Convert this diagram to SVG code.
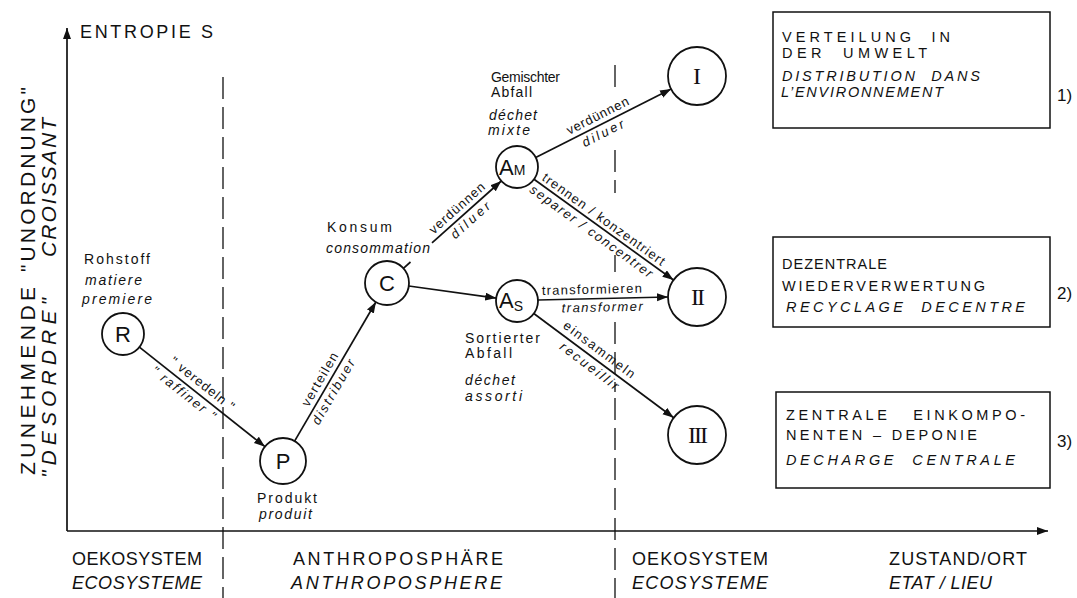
<svg xmlns="http://www.w3.org/2000/svg" width="1077" height="598" viewBox="0 0 1077 598">
  <style>
    text { font-family: "Liberation Sans", Arial, sans-serif; fill: #111; }
    .it { font-style: italic; }
    .ax { font-size: 18px; }
    .vl { font-size: 21px; }
    .bx { font-size: 14.5px; }
    .num { font-size: 17px; }
    .nl { font-size: 14px; }
    .el { font-size: 13px; text-anchor: middle; }
    .nd { font-size: 22px; }
    .rn { font-family: "Liberation Serif", "Times New Roman", serif; font-size: 24px; }
    .circ { fill: #fff; stroke: #111; stroke-width: 1.8; }
    .conn { stroke: #111; stroke-width: 1.7; fill: none; }
    .dash { stroke: #111; stroke-width: 1.3; stroke-dasharray: 22 8; fill: none; }
    .box { fill: #fff; stroke: #111; stroke-width: 1.5; }
  </style>
  <defs>
    <marker id="ah" markerWidth="12" markerHeight="9" refX="11" refY="4" orient="auto" markerUnits="userSpaceOnUse">
      <path d="M0,0 L11,4 L0,8 z" fill="#111"/>
    </marker>
  </defs>

  <rect width="1077" height="598" fill="#fff"/>

  <!-- zone boundaries -->
  <g id="zones">
    <line class="dash" x1="223" y1="77" x2="223" y2="598"/>
    <line class="dash" x1="615" y1="65" x2="615" y2="88"/>
    <line class="dash" x1="615" y1="150" x2="615" y2="193"/>
    <line class="dash" x1="615" y1="255" x2="615" y2="272"/>
    <line class="dash" x1="615" y1="322" x2="615" y2="392"/>
    <line class="dash" x1="615" y1="398" x2="615" y2="598"/>
  </g>

  <!-- axes -->
  <g id="axes">
    <line class="conn" x1="67" y1="531" x2="67" y2="28" marker-end="url(#ah)"/>
    <line class="conn" x1="67" y1="531" x2="1048" y2="531" marker-end="url(#ah)"/>
    <text class="ax" x="80" y="38" textLength="133" lengthAdjust="spacing">ENTROPIE S</text>
    <text class="vl" transform="translate(35,475) rotate(-90)" textLength="188" lengthAdjust="spacing">ZUNEHMENDE</text>
    <text class="vl" transform="translate(35,272) rotate(-90)" textLength="185" lengthAdjust="spacing">"UNORDNUNG"</text>
    <text class="vl it" transform="translate(56,478) rotate(-90)" textLength="180" lengthAdjust="spacing">"DESORDRE"</text>
    <text class="vl it" transform="translate(56,257) rotate(-90)" textLength="139" lengthAdjust="spacing">CROISSANT</text>
    <text class="ax" x="72" y="565" textLength="130" lengthAdjust="spacing">OEKOSYSTEM</text>
    <text class="ax it" x="72" y="589" textLength="130" lengthAdjust="spacing">ECOSYSTEME</text>
    <text class="ax" x="293" y="565" textLength="210" lengthAdjust="spacing">ANTHROPOSPHÄRE</text>
    <text class="ax it" x="291" y="589" textLength="211" lengthAdjust="spacing">ANTHROPOSPHERE</text>
    <text class="ax" x="632" y="565" textLength="136" lengthAdjust="spacing">OEKOSYSTEM</text>
    <text class="ax it" x="632" y="589" textLength="136" lengthAdjust="spacing">ECOSYSTEME</text>
    <text class="ax" x="889" y="565" textLength="138" lengthAdjust="spacing">ZUSTAND/ORT</text>
    <text class="ax it" x="889" y="589" textLength="103" lengthAdjust="spacing" xml:space="preserve">ETAT / LIEU</text>
  </g>

  <!-- connectors; each label group is placed in the frame of its line (origin at line start) -->
  <g id="connectors">
    <line class="conn" x1="139.4" y1="347.1" x2="265" y2="446.7" marker-end="url(#ah)"/>
    <line class="conn" x1="294.6" y1="441.1" x2="375.9" y2="302" marker-end="url(#ah)"/>
    <line class="conn" x1="403.4" y1="268.3" x2="410.5" y2="262"/>
    <line class="conn" x1="432" y1="242.8" x2="501.3" y2="181" marker-end="url(#ah)"/>
    <line class="conn" x1="535.7" y1="157.5" x2="671.1" y2="89.1" marker-end="url(#ah)"/>
    <line class="conn" x1="534" y1="179.3" x2="673.5" y2="280" marker-end="url(#ah)"/>
    <line class="conn" x1="408.8" y1="286" x2="496.2" y2="298.1" marker-end="url(#ah)"/>
    <line class="conn" x1="538" y1="300" x2="668" y2="297" marker-end="url(#ah)"/>
    <line class="conn" x1="533.8" y1="313.5" x2="673.7" y2="417.7" marker-end="url(#ah)"/>

    <g transform="translate(139.4,347.1) rotate(38.4)">
      <text class="el" x="72" y="-6" textLength="78" lengthAdjust="spacing">" veredeln "</text>
      <text class="el it" x="63" y="13" textLength="78" lengthAdjust="spacing">" raffiner "</text>
    </g>
    <g transform="translate(294.6,441.1) rotate(-59.7)">
      <text class="el" x="66" y="-5" textLength="60" lengthAdjust="spacing">verteilen</text>
      <text class="el it" x="62" y="13" textLength="73" lengthAdjust="spacing">distribuer</text>
    </g>
    <g transform="translate(403.4,268.3) rotate(-41.7)">
      <text class="el" x="80" y="-5" textLength="70" lengthAdjust="spacing">verdünnen</text>
      <text class="el it" x="82" y="13" textLength="48" lengthAdjust="spacing">diluer</text>
    </g>
    <g transform="translate(535.7,157.5) rotate(-26.8)">
      <text class="el" x="74" y="-5" textLength="68" lengthAdjust="spacing">verdünnen</text>
      <text class="el it" x="71" y="13" textLength="45" lengthAdjust="spacing">diluer</text>
    </g>
    <g transform="translate(534,179.3) rotate(35.8)">
      <text class="el" x="80" y="-4" textLength="148" lengthAdjust="spacing" xml:space="preserve">trennen / konzentriert</text>
      <text class="el it" x="77" y="13" textLength="148" lengthAdjust="spacing" xml:space="preserve">separer / concentrer</text>
    </g>
    <g transform="translate(538,300) rotate(-1.3)">
      <text class="el" x="54" y="-5" textLength="100" lengthAdjust="spacing">transformieren</text>
      <text class="el it" x="64" y="13" textLength="81" lengthAdjust="spacing">transformer</text>
    </g>
    <g transform="translate(533.8,313.5) rotate(36.9)">
      <text class="el" x="74" y="-6" textLength="86" lengthAdjust="spacing">einsammeln</text>
      <text class="el it" x="76" y="13" textLength="70" lengthAdjust="spacing">recueillir</text>
    </g>
  </g>

  <!-- raw material -->
  <g id="node-R">
    <circle class="circ" cx="123" cy="334" r="21"/>
    <text class="nd" x="123" y="342" text-anchor="middle">R</text>
    <text class="nl" x="84" y="264" textLength="66" lengthAdjust="spacing">Rohstoff</text>
    <text class="nl it" x="85" y="285" textLength="57" lengthAdjust="spacing">matiere</text>
    <text class="nl it" x="82" y="304" textLength="70" lengthAdjust="spacing">premiere</text>
  </g>

  <!-- product -->
  <g id="node-P">
    <circle class="circ" cx="283" cy="461" r="23"/>
    <text class="nd" x="283" y="469" text-anchor="middle">P</text>
    <text class="nl" x="257" y="503" textLength="60" lengthAdjust="spacing">Produkt</text>
    <text class="nl it" x="259" y="519" textLength="53" lengthAdjust="spacing">produit</text>
  </g>

  <!-- consumption -->
  <g id="node-C">
    <circle class="circ" cx="387" cy="283" r="22"/>
    <text class="nd" x="387" y="291" text-anchor="middle">C</text>
    <text class="nl" x="327" y="232" textLength="65" lengthAdjust="spacing">Konsum</text>
    <text class="nl it" x="326" y="253" textLength="104" lengthAdjust="spacing">consommation</text>
  </g>

  <!-- mixed waste -->
  <g id="node-AM">
    <circle class="circ" cx="517" cy="167" r="21"/>
    <text x="499" y="175" class="nd">A<tspan font-size="14">M</tspan></text>
    <text class="nl" x="491" y="82" textLength="69" lengthAdjust="spacing">Gemischter</text>
    <text class="nl" x="491" y="97" textLength="41" lengthAdjust="spacing">Abfall</text>
    <text class="nl it" x="489" y="120" textLength="48" lengthAdjust="spacing">déchet</text>
    <text class="nl it" x="488" y="135" textLength="42" lengthAdjust="spacing">mixte</text>
  </g>

  <!-- sorted waste -->
  <g id="node-AS">
    <circle class="circ" cx="517" cy="301" r="21"/>
    <text x="499" y="308" class="nd">A<tspan font-size="14" dy="3">S</tspan></text>
    <text class="nl" x="465" y="343" textLength="75" lengthAdjust="spacing">Sortierter</text>
    <text class="nl" x="465" y="358" textLength="47" lengthAdjust="spacing">Abfall</text>
    <text class="nl it" x="465" y="385" textLength="50" lengthAdjust="spacing">déchet</text>
    <text class="nl it" x="465" y="401" textLength="57" lengthAdjust="spacing">assorti</text>
  </g>

  <!-- outcomes -->
  <g id="node-I">
    <circle class="circ" cx="697" cy="76" r="29"/>
    <text class="rn" x="697" y="84" text-anchor="middle">I</text>
  </g>
  <g id="node-II">
    <circle class="circ" cx="697" cy="297" r="29"/>
    <text class="rn" x="697" y="305" text-anchor="middle" letter-spacing="-2">II</text>
  </g>
  <g id="node-III">
    <circle class="circ" cx="697" cy="435" r="29"/>
    <text class="rn" x="697" y="443" text-anchor="middle" letter-spacing="-2">III</text>
  </g>

  <!-- legend boxes -->
  <g id="box-1">
    <rect class="box" x="773" y="12" width="277" height="116"/>
    <text class="bx" x="782" y="42" textLength="168" lengthAdjust="spacing" xml:space="preserve">VERTEILUNG  IN</text>
    <text class="bx" x="782" y="58" textLength="145" lengthAdjust="spacing" xml:space="preserve">DER  UMWELT</text>
    <text class="bx it" x="782" y="81" textLength="198" lengthAdjust="spacing" xml:space="preserve">DISTRIBUTION  DANS</text>
    <text class="bx it" x="781" y="97" textLength="162" lengthAdjust="spacing">L’ENVIRONNEMENT</text>
    <text class="num" x="1057" y="101">1)</text>
  </g>
  <g id="box-2">
    <rect class="box" x="773" y="237" width="277" height="90"/>
    <text class="bx" x="782" y="269" textLength="105" lengthAdjust="spacing">DEZENTRALE</text>
    <text class="bx" x="782" y="291" textLength="203" lengthAdjust="spacing">WIEDERVERWERTUNG</text>
    <text class="bx it" x="786" y="312" textLength="239" lengthAdjust="spacing" xml:space="preserve">RECYCLAGE  DECENTRE</text>
    <text class="num" x="1057" y="299">2)</text>
  </g>
  <g id="box-3">
    <rect class="box" x="776" y="392" width="274" height="96"/>
    <text class="bx" x="786" y="420" textLength="239" lengthAdjust="spacing" xml:space="preserve">ZENTRALE   EINKOMPO-</text>
    <text class="bx" x="786" y="440" textLength="191" lengthAdjust="spacing" xml:space="preserve">NENTEN – DEPONIE</text>
    <text class="bx it" x="786" y="465" textLength="229" lengthAdjust="spacing" xml:space="preserve">DECHARGE  CENTRALE</text>
    <text class="num" x="1057" y="447">3)</text>
  </g>
</svg>
